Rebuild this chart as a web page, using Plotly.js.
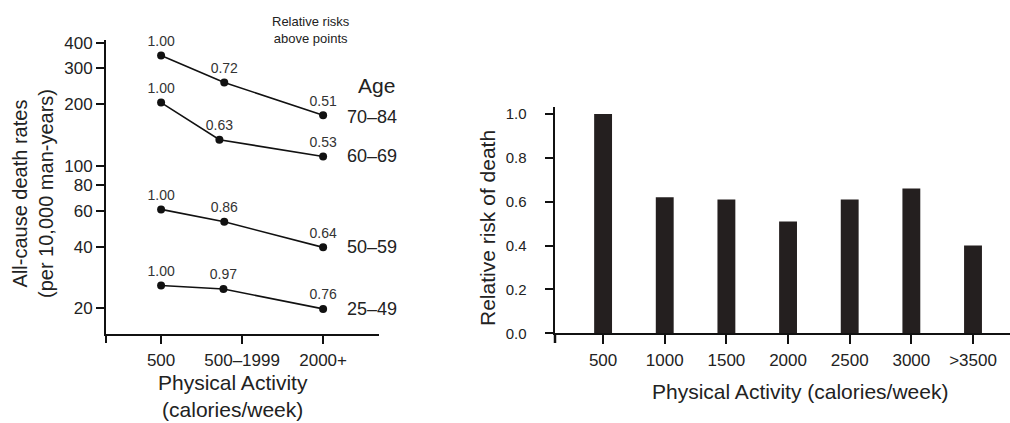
<!DOCTYPE html>
<html><head><meta charset="utf-8">
<script src="https://cdn.plot.ly/plotly-3.0.1.min.js"></script>
<style>html,body{margin:0;padding:0;background:#fff}#chart{width:1010px;height:423px}</style>
</head><body><div id="chart"></div>
<script>
// ---- Left chart data ----
const activityCats = ['500', '500–1999', '2000+'];
const ageLabels = ['70–84', '60–69', '50–59', '25–49'];
const xAge70 = [0, 0.78, 2];
const rate70 = [347, 256, 177];
const rr70 = ['1.00', '0.72', '0.51'];
const xAge60 = [0, 0.72, 2];
const rate60 = [204, 134, 111];
const rr60 = ['1.00', '0.63', '0.53'];
const xAge50 = [0, 0.78, 2];
const rate50 = [61, 53, 39.7];
const rr50 = ['1.00', '0.86', '0.64'];
const xAge25 = [0, 0.77, 2];
const rate25 = [25.8, 24.8, 19.8];
const rr25 = ['1.00', '0.97', '0.76'];
const rateTicks = [20, 40, 60, 80, 100, 200, 300, 400];

// ---- Right chart data ----
const barCats = ['500', '1000', '1500', '2000', '2500', '3000', '>3500'];
const barRisk = [1.0, 0.62, 0.61, 0.51, 0.61, 0.66, 0.40];
const riskTicks = [0, 0.2, 0.4, 0.6, 0.8, 1.0];

const W = 1010, H = 423;
const px = x => x / W;
const py = y => 1 - y / H;
const FONT = '"Liberation Sans", Arial, Helvetica, sans-serif';
const TXT = '#222';

const xs = [xAge70, xAge60, xAge50, xAge25];
const ys = [rate70, rate60, rate50, rate25];
const rrs = [rr70, rr60, rr50, rr25];

const traces = ys.map((y, i) => ({
  type: 'scatter', mode: 'lines+markers+text',
  x: xs[i], y: y, text: rrs[i],
  textposition: 'top center',
  textfont: {family: FONT, size: 14, color: '#333'},
  line: {color: '#111', width: 1.6},
  marker: {color: '#111', size: 8},
  cliponaxis: false, showlegend: false, hoverinfo: 'skip',
  xaxis: 'x', yaxis: 'y'
}));

traces.push({
  type: 'bar', x: barCats, y: barRisk, width: 0.29,
  marker: {color: '#241f1f', line: {width: 0}},
  showlegend: false, xaxis: 'x2', yaxis: 'y2'
});

const annotations = ageLabels.map((lab, i) => ({
  text: lab, x: 2, y: Math.log10(ys[i][2]), xref: 'x', yref: 'y',
  xanchor: 'left', yanchor: 'middle', xshift: 22, yshift: i === 0 ? -2 : 0,
  showarrow: false, font: {family: FONT, size: 18, color: TXT}
}));

annotations.push(
  {text: 'Age', x: px(376), y: py(86), xref: 'paper', yref: 'paper', xanchor: 'center', yanchor: 'middle',
   showarrow: false, font: {family: FONT, size: 21, color: TXT}},
  {text: 'Relative risks<br>above points', x: px(311), y: py(30), xref: 'paper', yref: 'paper',
   xanchor: 'center', yanchor: 'middle', showarrow: false, font: {family: FONT, size: 13, color: TXT}},
  {text: 'All-cause death rates<br>(per 10,000 man-years)', x: px(33), y: py(194), xref: 'paper', yref: 'paper',
   xanchor: 'center', yanchor: 'middle', textangle: -90, showarrow: false,
   font: {family: FONT, size: 20, color: TXT}},
  {text: 'Physical Activity<br>(calories/week)', x: px(233), y: py(396), xref: 'paper', yref: 'paper',
   xanchor: 'center', yanchor: 'middle', showarrow: false, font: {family: FONT, size: 21, color: TXT}},
  {text: 'Relative risk of death', x: px(487), y: py(228), xref: 'paper', yref: 'paper',
   xanchor: 'center', yanchor: 'middle', textangle: -90, showarrow: false,
   font: {family: FONT, size: 21, color: TXT}},
  {text: 'Physical Activity (calories/week)', x: px(800), y: py(391), xref: 'paper', yref: 'paper',
   xanchor: 'center', yanchor: 'middle', showarrow: false, font: {family: FONT, size: 21, color: TXT}}
);

const axBase = {
  showgrid: false, zeroline: false, showline: true, linecolor: '#111', linewidth: 2,
  ticks: 'outside', tickcolor: '#111', tickwidth: 2, ticklen: 8,
  tickfont: {family: FONT, size: 17, color: TXT}, fixedrange: true
};

const layout = {
  width: W, height: H,
  margin: {l: 0, r: 0, t: 0, b: 0},
  paper_bgcolor: '#fff', plot_bgcolor: '#fff',
  font: {family: FONT, color: TXT},
  xaxis: Object.assign({}, axBase, {
    domain: [px(106), px(379)], range: [-0.68, 2.69],
    tickvals: [0, 1, 2], ticktext: activityCats, anchor: 'y', ticklabelstandoff: 2
  }),
  yaxis: Object.assign({}, axBase, {
    domain: [py(334), py(40)], type: 'log', range: [1.1734, 2.617],
    tickvals: rateTicks, ticktext: rateTicks.map(String), anchor: 'x', ticklabelstandoff: 0
  }),
  xaxis2: Object.assign({}, axBase, {
    domain: [px(555), 1], range: [-0.78, 6.6], type: 'category', anchor: 'y2',
    tickfont: {family: FONT, size: 17, color: TXT}, ticklen: 9, ticklabelstandoff: 1
  }),
  yaxis2: Object.assign({}, axBase, {
    domain: [py(333.3), py(107)], range: [0, 1.032], anchor: 'x2',
    tickvals: riskTicks, tickformat: '.1f', ticklen: 8, ticklabelstandoff: 15,
    tickfont: {family: FONT, size: 15, color: TXT}, linewidth: 2.5
  }),
  shapes: [
    {type: 'line', xref: 'paper', yref: 'paper', x0: px(106), x1: px(106), y0: py(334), y1: py(343),
     line: {color: '#111', width: 2}},
    {type: 'line', xref: 'paper', yref: 'paper', x0: px(555), x1: px(555), y0: py(333), y1: py(343),
     line: {color: '#111', width: 2.5}}
  ],
  annotations: annotations,
  showlegend: false
};

Plotly.newPlot('chart', traces, layout, {displayModeBar: false, staticPlot: true});
</script></body></html>
